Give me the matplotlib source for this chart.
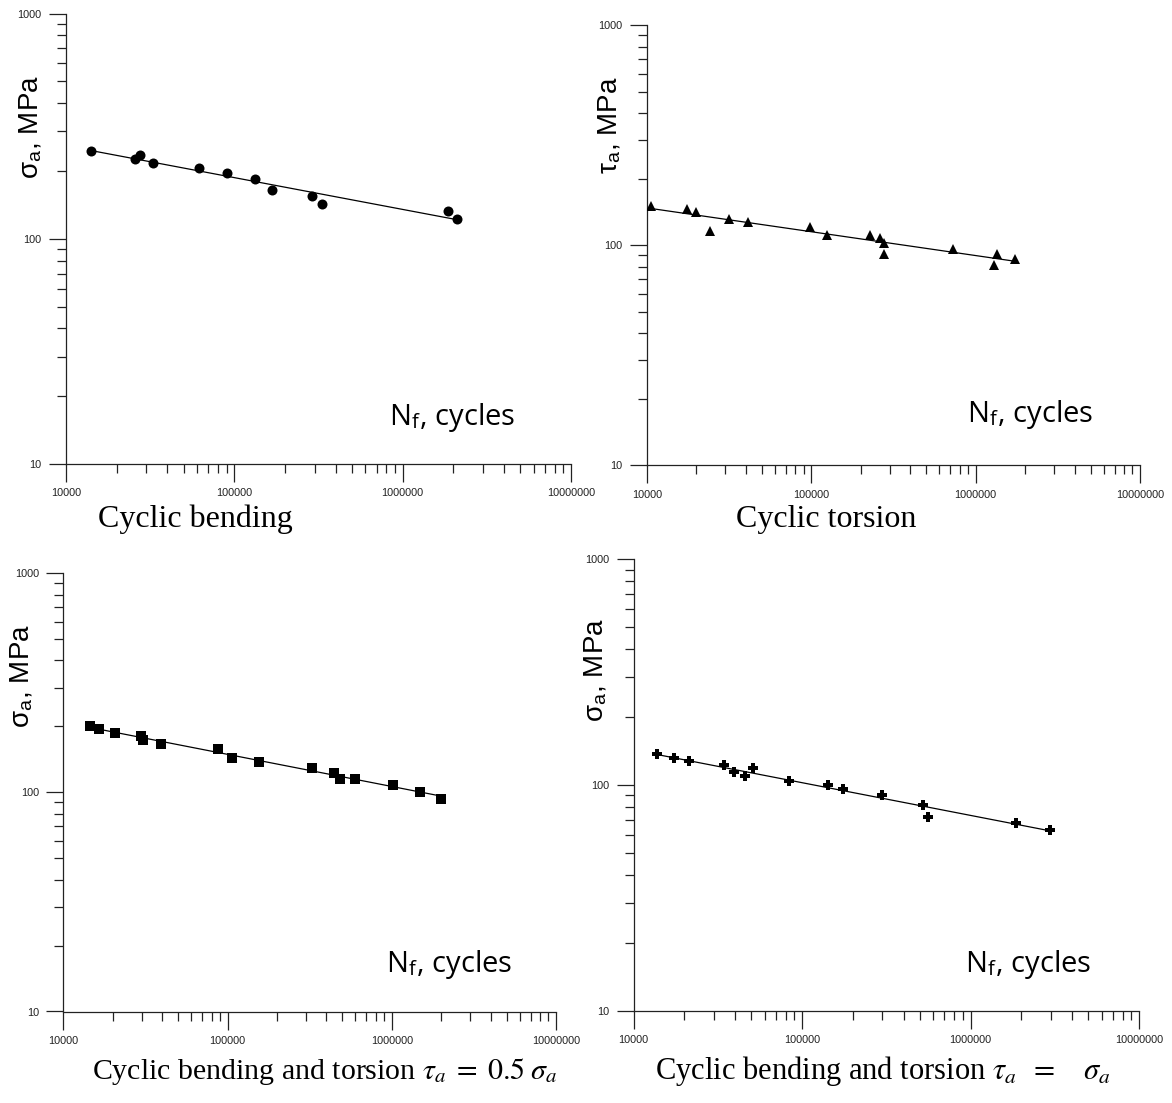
import numpy as np
import matplotlib
matplotlib.use("Agg")
import matplotlib.pyplot as plt
from matplotlib.ticker import LogLocator, FuncFormatter, NullFormatter

# ---------------- data ----------------
bend_N = [14075, 25670, 27495, 32960, 61800, 89880, 132300, 166300, 291200, 330600, 1849000, 2112000]
bend_S = [245.6, 224.9, 236.6, 215.9, 205.1, 194.9, 184.4, 164.3, 154.5, 143.3, 132.9, 122.5]

tors_N = [10576, 17444, 19860, 24180, 31550, 41020, 98200, 124100, 227500, 261800, 277000, 277000,
          731000, 1343000, 1294000, 1738000]
tors_T = [151.4, 146.2, 141.7, 116.5, 131.7, 127.2, 120.7, 111.4, 111.4, 107.6, 102.1, 91.3,
          96.2, 91.3, 81.4, 86.3]

bt05_N = [14540, 16430, 20730, 29830, 30680, 39310, 87800, 106400, 155900, 324900, 444200, 483200,
          598700, 1020000, 1489000, 2000000]
bt05_S = [201.4, 194.5, 187.1, 180.7, 173.3, 166.2, 158.2, 143.9, 137.5, 129.5, 122.9, 115.4,
          115.4, 108.0, 100.6, 93.5]

bt1_N = [13697, 17350, 21300, 34510, 39570, 45810, 51310, 83260, 142500, 174200, 296900, 520200,
         556900, 1863000, 2966000]
bt1_S = [136.8, 132.1, 127.8, 122.7, 113.8, 109.6, 118.6, 104.5, 100.0, 95.7, 90.9, 81.5,
         72.4, 68.1, 63.6]

ylabels = ["σ$_{\\mathregular{a}}$, MPa", "τ$_{\\mathregular{a}}$, MPa",
           "σ$_{\\mathregular{a}}$, MPa", "σ$_{\\mathregular{a}}$, MPa"]
captions = ["Cyclic bending", "Cyclic torsion",
            r"Cyclic bending and torsion $\tau_a\; =\; 0.5\;\sigma_a$",
            r"Cyclic bending and torsion $\tau_a\;\; =\;\;\;\;\sigma_a$"]
xlabel = "N$_{\\mathregular{f}}$, cycles"

# ---------------- figure ----------------
W, H = 1172, 1103
plt.rcParams['mathtext.fontset'] = 'stix'
fig = plt.figure(figsize=(W / 100, H / 100), dpi=100)


def px_axes(left, right, top, bottom):
    return fig.add_axes([left / W, 1 - bottom / H, (right - left) / W, (bottom - top) / H])


def fx(x):
    return x / W


def fy(y):
    return 1 - y / H


panels = [
    dict(box=(66, 571, 13.5, 464), N=bend_N, S=bend_S, m='o', ms=7.2,
         ylab=(31, 127), nf=(389, 425), cap=(195, 527), capfs=23),
    dict(box=(647, 1140, 25.3, 465.3), N=tors_N, S=tors_T, m='^', ms=7.8,
         ylab=(610, 125), nf=(967, 422), cap=(826, 527), capfs=23),
    dict(box=(63.3, 556, 573.3, 1011.5), N=bt05_N, S=bt05_S, m='s', ms=6.6,
         ylab=(22, 676), nf=(386, 972), cap=(325, 1079), capfs=21.5),
    dict(box=(633.7, 1139, 559.3, 1011), N=bt1_N, S=bt1_S, m='P', ms=7.2,
         ylab=(596, 670), nf=(965, 972), cap=(883, 1079), capfs=22),
]

fmt = FuncFormatter(lambda v, p: f"{int(round(v))}")

for i, p in enumerate(panels):
    ax = px_axes(*p['box'])
    ax.set_xscale('log')
    ax.set_yscale('log')
    ax.set_xlim(1e4, 1e7)
    ax.set_ylim(10, 1000)
    for s in ('top', 'right'):
        ax.spines[s].set_visible(False)
    for s in ('left', 'bottom'):
        ax.spines[s].set_linewidth(0.9)
        ax.spines[s].set_color('#222222')
    for axis in (ax.xaxis, ax.yaxis):
        axis.set_major_locator(LogLocator(base=10, numticks=10))
        axis.set_minor_locator(LogLocator(base=10, subs=np.arange(2, 10), numticks=10))
        axis.set_major_formatter(fmt)
        axis.set_minor_formatter(NullFormatter())
    ax.tick_params(which='major', length=12.6, width=0.9, direction='out',
                   labelsize=7.8, pad=5, colors='#222222')
    ax.tick_params(which='minor', length=6.3, width=0.9, direction='out', colors='#222222')
    for lab in ax.get_xticklabels() + ax.get_yticklabels():
        lab.set_fontfamily('Liberation Sans')

    N = np.array(p['N'], dtype=float)
    S = np.array(p['S'], dtype=float)
    b, a = np.polyfit(np.log10(N), np.log10(S), 1)
    xl = np.array([N.min(), N.max()])
    ax.plot(xl, 10 ** (a + b * np.log10(xl)), color='black', lw=0.9, zorder=2)
    ax.plot(N, S, linestyle='none', marker=p['m'], ms=p['ms'], color='black',
            markeredgewidth=0, zorder=3)

    fig.text(fx(p['ylab'][0]), fy(p['ylab'][1]), ylabels[i], rotation=90,
             ha='center', va='center', fontsize=20, family='Liberation Sans')
    fig.text(fx(p['nf'][0]), fy(p['nf'][1]), xlabel, ha='left', va='baseline',
             fontsize=21, family='Open Sans')
    fig.text(fx(p['cap'][0]), fy(p['cap'][1]), captions[i], ha='center', va='baseline',
             fontsize=p['capfs'], family='Liberation Serif')

fig.savefig('out.png', dpi=100)
